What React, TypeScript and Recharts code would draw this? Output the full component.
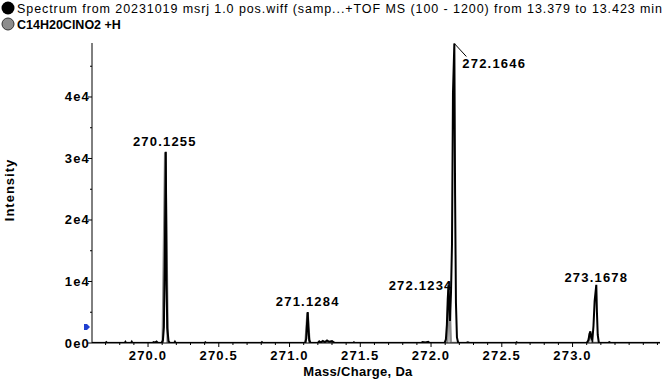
import { LineChart, Line, XAxis, YAxis, ReferenceDot } from "recharts";

// measured spectrum (profile), mass / intensity
const spectrum = [
  { m: 269.604, i: 0 },
  { m: 269.7, i: 0 }, { m: 269.705, i: 120 }, { m: 269.71, i: 0 },
  { m: 269.835, i: 0 }, { m: 269.84, i: 180 }, { m: 269.845, i: 0 },
  { m: 269.88, i: 0 }, { m: 269.885, i: 200 }, { m: 269.89, i: 0 },
  { m: 270.03, i: 0 }, { m: 270.04, i: 150 }, { m: 270.05, i: 60 }, { m: 270.06, i: 220 }, { m: 270.07, i: 0 },
  { m: 270.095, i: 0 }, { m: 270.105, i: 400 }, { m: 270.112, i: 2600 }, { m: 270.118, i: 12500 },
  { m: 270.1255, i: 31100 }, { m: 270.131, i: 9500 }, { m: 270.136, i: 2400 }, { m: 270.145, i: 300 }, { m: 270.155, i: 0 },
  { m: 270.185, i: 0 }, { m: 270.19, i: 200 }, { m: 270.195, i: 0 },
  { m: 270.4, i: 0 }, { m: 270.405, i: 100 }, { m: 270.41, i: 0 },
  { m: 270.8, i: 0 }, { m: 270.805, i: 120 }, { m: 270.81, i: 0 },
  { m: 271.11, i: 0 }, { m: 271.118, i: 700 }, { m: 271.123, i: 2900 }, { m: 271.1284, i: 5050 },
  { m: 271.133, i: 2600 }, { m: 271.139, i: 500 }, { m: 271.148, i: 0 },
  { m: 271.2, i: 0 }, { m: 271.21, i: 250 }, { m: 271.22, i: 80 }, { m: 271.235, i: 350 }, { m: 271.25, i: 150 },
  { m: 271.265, i: 400 }, { m: 271.28, i: 200 }, { m: 271.3, i: 300 }, { m: 271.32, i: 0 },
  { m: 271.45, i: 0 }, { m: 271.455, i: 100 }, { m: 271.46, i: 0 },
  { m: 271.93, i: 0 }, { m: 271.94, i: 150 }, { m: 271.96, i: 100 }, { m: 271.98, i: 200 }, { m: 271.99, i: 0 },
  { m: 272.095, i: 0 }, { m: 272.105, i: 600 }, { m: 272.112, i: 3000 }, { m: 272.118, i: 7200 },
  { m: 272.1234, i: 9400 }, { m: 272.128, i: 6200 }, { m: 272.134, i: 3600 }, { m: 272.141, i: 8200 },
  { m: 272.148, i: 16000 }, { m: 272.155, i: 40700 }, { m: 272.1646, i: 48700 }, { m: 272.17, i: 24000 },
  { m: 272.176, i: 6500 }, { m: 272.183, i: 900 }, { m: 272.192, i: 0 },
  { m: 272.25, i: 0 }, { m: 272.26, i: 120 }, { m: 272.27, i: 0 },
  { m: 272.6, i: 0 }, { m: 272.605, i: 100 }, { m: 272.61, i: 0 },
  { m: 273.1, i: 0 }, { m: 273.113, i: 500 }, { m: 273.12, i: 1500 }, { m: 273.126, i: 1900 },
  { m: 273.132, i: 900 }, { m: 273.14, i: 500 }, { m: 273.148, i: 2800 }, { m: 273.156, i: 6800 },
  { m: 273.1678, i: 9450 }, { m: 273.172, i: 5200 }, { m: 273.178, i: 1300 }, { m: 273.186, i: 0 },
  { m: 273.25, i: 0 }, { m: 273.26, i: 150 }, { m: 273.27, i: 0 },
  { m: 273.618, i: 0 },
];

// theoretical isotope pattern C14H20ClNO2 +H
const theoretical = [
  { m: 269.604, i: 0 },
  { m: 270.104, i: 0 }, { m: 270.113, i: 16000 }, { m: 270.1215, i: 31000 }, { m: 270.13, i: 16000 }, { m: 270.139, i: 0 },
  { m: 271.113, i: 0 }, { m: 271.12, i: 2400 }, { m: 271.1274, i: 4900 }, { m: 271.134, i: 2400 }, { m: 271.141, i: 0 },
  { m: 272.115, i: 0 }, { m: 272.12, i: 4900 }, { m: 272.1265, i: 9900 }, { m: 272.133, i: 4900 }, { m: 272.139, i: 0 },
  { m: 273.11, i: 0 }, { m: 273.117, i: 800 }, { m: 273.1246, i: 1600 }, { m: 273.132, i: 800 }, { m: 273.139, i: 0 },
  { m: 273.618, i: 0 },
];

const peakLabels = [
  { m: 270.1255, i: 31100, text: "270.1255" },
  { m: 271.1284, i: 5050, text: "271.1284" },
  { m: 272.1646, i: 48700, text: "272.1646" },
  { m: 272.1234, i: 9900, text: "272.1234" },
  { m: 273.1678, i: 9450, text: "273.1678" },
];

const massTicks = [
  269.7, 269.8, 269.9, 270.0, 270.1, 270.2, 270.3, 270.4, 270.5, 270.6,
  270.7, 270.8, 270.9, 271.0, 271.1, 271.2, 271.3, 271.4, 271.5, 271.6,
  271.7, 271.8, 271.9, 272.0, 272.1, 272.2, 272.3, 272.4, 272.5, 272.6,
  272.7, 272.8, 272.9, 273.0, 273.1, 273.2, 273.3, 273.4, 273.5, 273.6,
];
const massLabels = ["270.0", "270.5", "271.0", "271.5", "272.0", "272.5", "273.0"];

const intensityTicks = [0, 5000, 10000, 15000, 20000, 25000, 30000, 35000, 40000, 45000];
const intensityLabels: Record<number, string> = {
  0: "0e0", 10000: "1e4", 20000: "2e4", 30000: "3e4", 40000: "4e4",
};

const thresholdIntensity = 2600;

const FONT = "'Liberation Sans', Arial, sans-serif";

// placement of each peak label relative to its peak top
const labelLayout = [
  { dx: -1, dy: -6, anchor: "middle", leader: false },
  { dx: 0, dy: -6, anchor: "middle", leader: false },
  { dx: 8, dy: 25, anchor: "start", leader: true },
  { dx: 4, dy: 8, anchor: "end", leader: false },
  { dx: 0, dy: -3, anchor: "middle", leader: false },
];

function MassTick({ x, y, payload }: any) {
  const label = payload.value.toFixed(1);
  const major = massLabels.includes(label);
  return (
    <g>
      <line x1={x} y1={y} x2={x} y2={y + (major ? 4 : 2)} stroke="#000" />
      {major && (
        <text x={x} y={y + 17} textAnchor="middle" fontFamily={FONT} fontSize={13} fontWeight="bold" letterSpacing={1.2} fill="#000">
          {label}
        </text>
      )}
    </g>
  );
}

function IntensityTick({ x, y, payload }: any) {
  const label = intensityLabels[payload.value];
  return (
    <g>
      <line x1={x - (label ? 4 : 2)} y1={y} x2={x} y2={y} stroke="#000" />
      {label && (
        <text x={x - 2} y={y + 4.5} textAnchor="end" fontFamily={FONT} fontSize={13} fontWeight="bold" letterSpacing={1.2} fill="#000">
          {label}
        </text>
      )}
    </g>
  );
}

function PeakLabel({ cx, cy, text, layout }: any) {
  return (
    <g>
      {layout.leader && <line x1={cx} y1={cy} x2={cx + 12} y2={cy + 13} stroke="#000" />}
      <text x={cx + layout.dx} y={cy + layout.dy} textAnchor={layout.anchor} fontFamily={FONT} fontSize={13} fontWeight="bold" letterSpacing={1.2} fill="#000">
        {text}
      </text>
    </g>
  );
}

function Threshold({ cx, cy }: any) {
  return <polygon points={`${cx - 8},${cy - 3} ${cx - 5},${cy - 3} ${cx - 2},${cy} ${cx - 5},${cy + 3} ${cx - 8},${cy + 3}`} fill="#1f3fd0" />;
}

export default function App() {
  return (
    <div style={{ position: "absolute", left: 0, top: 0, width: 666, height: 383, background: "#fff" }}>
      <LineChart width={666} height={383} margin={{ top: 43, right: 6, bottom: 0, left: 0 }}>
        <XAxis
          dataKey="m"
          type="number"
          domain={[269.604, 273.618]}
          allowDataOverflow
          ticks={massTicks}
          interval={0}
          tickSize={0}
          tickMargin={0}
          tickLine={false}
          tick={<MassTick />}
          axisLine={{ stroke: "#000" }}
          height={40}
        />
        <YAxis
          dataKey="i"
          type="number"
          domain={[0, 48780]}
          allowDataOverflow
          ticks={intensityTicks}
          interval={0}
          tickSize={0}
          tickMargin={0}
          tickLine={false}
          tick={<IntensityTick />}
          axisLine={{ stroke: "#000" }}
          width={92}
        />
        <Line data={theoretical} dataKey="i" type="linear" stroke="#8a8a8a" strokeWidth={2.5} dot={false} isAnimationActive={false} />
        <Line data={spectrum} dataKey="i" type="linear" stroke="#000" strokeWidth={2} dot={false} isAnimationActive={false} />
        {peakLabels.map((p, idx) => (
          <ReferenceDot
            key={p.text}
            x={p.m}
            y={p.i}
            r={0}
            ifOverflow="visible"
            shape={(props: any) => <PeakLabel {...props} text={p.text} layout={labelLayout[idx]} />}
          />
        ))}
        <ReferenceDot x={269.604} y={thresholdIntensity} r={0} ifOverflow="visible" shape={(props: any) => <Threshold {...props} />} />
      </LineChart>
      <svg width={666} height={383} style={{ position: "absolute", left: 0, top: 0, pointerEvents: "none" }}>
        <circle cx={8} cy={8} r={6.5} fill="#000" />
        <text x={17} y={13} fontFamily={FONT} fontSize={12.5} fill="#000" textLength={645} lengthAdjust="spacing">
          Spectrum from 20231019 msrj 1.0 pos.wiff (samp...+TOF MS (100 - 1200) from 13.379 to 13.423 min
        </text>
        <circle cx={8} cy={24} r={6} fill="#8c8c8c" stroke="#333" strokeWidth={1} />
        <text x={17} y={29} fontFamily={FONT} fontSize={12.5} fontWeight="bold" fill="#000">
          C14H20ClNO2 +H
        </text>
        <text x={14} y={190} transform="rotate(-90 14 190)" textAnchor="middle" fontFamily={FONT} fontSize={13} fontWeight="bold" letterSpacing={1} fill="#000">
          Intensity
        </text>
        <text x={358} y={376} textAnchor="middle" fontFamily={FONT} fontSize={13} fontWeight="bold" letterSpacing={0.3} fill="#000">
          Mass/Charge, Da
        </text>
      </svg>
    </div>
  );
}
